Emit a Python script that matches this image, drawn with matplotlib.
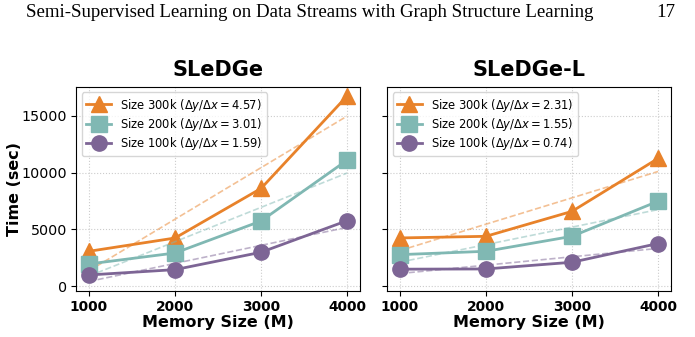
import matplotlib.pyplot as plt
import numpy as np

# data
mem = [1000, 2000, 3000, 4000]
sizes = ["300k", "200k", "100k"]

sledge_300k = [3075, 4244, 8610, 16750]
sledge_200k = [1960, 2925, 5740, 11100]
sledge_100k = [990, 1460, 2990, 5770]
sledge_slopes = [4.57, 3.01, 1.59]

sledgel_300k = [4250, 4394, 6590, 11250]
sledgel_200k = [2780, 3075, 4394, 7480]
sledgel_100k = [1500, 1520, 2110, 3760]
sledgel_slopes = [2.31, 1.55, 0.74]

colors = ["#E8822A", "#80B8B3", "#7D6595"]
markers = ["^", "s", "o"]

fig = plt.figure(figsize=(6.95, 3.37), dpi=100)
ax1 = fig.add_axes([0.1094, 0.1374, 0.4086, 0.6053])
ax2 = fig.add_axes([0.5568, 0.1374, 0.4086, 0.6053], sharey=ax1)

fig.text(0.037, 0.963, "Semi-Supervised Learning on Data Streams with Graph Structure Learning",
         family="Liberation Serif", fontsize=13.6, va="center", ha="left")
fig.text(0.944, 0.963, "17", family="Liberation Serif", fontsize=13.6, va="center", ha="left")


def panel(ax, series, slopes, title):
    for ys, s, sl, c, m in zip(series, sizes, slopes, colors, markers):
        ax.plot(mem, ys, color=c, marker=m, markersize=11, linewidth=2,
                label=r"Size %s ($\Delta y/\Delta x = %.2f$)" % (s, sl))
        k, b = np.polyfit(mem, ys, 1)
        ax.plot(mem, np.polyval([k, b], mem), color=c, linestyle="--", linewidth=1.2, alpha=0.5)
    ax.set_title(title, fontsize=15, fontweight="bold", pad=8)
    ax.set_xlabel("Memory Size (M)", fontsize=11.5, fontweight="bold", labelpad=1)
    ax.set_xticks(mem)
    ax.tick_params(axis="x", labelsize=9.9, pad=3)
    ax.tick_params(axis="y", labelsize=10.3, pad=3)
    for t in ax.get_xticklabels():
        t.set_fontweight("bold")
    ax.grid(True, linestyle=":", color="#cccccc", linewidth=0.8)
    leg = ax.legend(loc="upper left", fontsize=8.3, handlelength=2.2, borderpad=0.35,
                    labelspacing=0.2, handletextpad=0.8)
    leg.get_frame().set_edgecolor("#cccccc")


panel(ax1, [sledge_300k, sledge_200k, sledge_100k], sledge_slopes, "SLeDGe")
panel(ax2, [sledgel_300k, sledgel_200k, sledgel_100k], sledgel_slopes, "SLeDGe-L")
ax1.set_ylabel("Time (sec)", fontsize=11.5, fontweight="bold", va="center")
ax1.yaxis.set_label_coords(-0.215, 0.5)
ax1.set_yticks([0, 5000, 10000, 15000])
plt.setp(ax2.get_yticklabels(), visible=False)

fig.savefig("out.png", dpi=100)
